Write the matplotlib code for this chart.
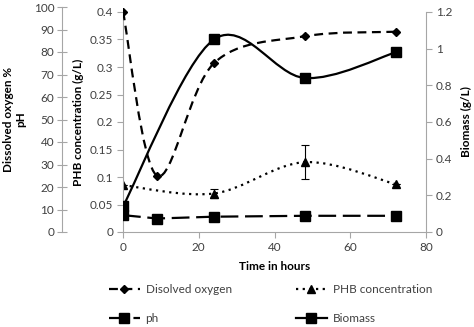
import numpy as np
import matplotlib
matplotlib.use("Agg")
import matplotlib.pyplot as plt
from matplotlib.path import Path
from matplotlib.patches import PathPatch
from matplotlib.lines import Line2D

plt.rcParams['font.family'] = ['Lato', 'DejaVu Sans']
plt.rcParams['font.size'] = 8.5

# data
time_do = [0, 9, 24, 48, 72]
dissolved_oxygen = [98, 25, 75, 87, 89]      # % (outer left axis)
time_ph = [0, 9, 24, 48, 72]
ph = [7.5, 6.0, 6.8, 7.2, 7.2]               # outer left axis
time_phb = [0, 24, 48, 72]
phb = [0.085, 0.070, 0.127, 0.087]           # g/L
phb_err = [0.0, 0.009, 0.031, 0.0]
time_bio = [0, 24, 48, 72]
biomass = [0.14, 1.05, 0.84, 0.98]           # g/L (right axis)

grey = '#a6a6a6'
tick_col = '#404040'
fs = 8.5


def smooth_path(x, y):
    # excel-like smoothed line: catmull-rom converted to cubic bezier
    p = np.column_stack([x, y]).astype(float)
    n = len(p)
    verts = [p[0]]
    codes = [Path.MOVETO]
    for i in range(n - 1):
        p0 = p[i - 1] if i > 0 else p[i]
        p3 = p[i + 2] if i + 2 < n else p[i + 1]
        c1 = p[i] + (p[i + 1] - p0) / 6.0
        c2 = p[i + 1] - (p3 - p[i]) / 6.0
        verts += [c1, c2, p[i + 1]]
        codes += [Path.CURVE4] * 3
    return Path(verts, codes)


fig = plt.figure(figsize=(4.74, 3.27), dpi=100)
W, H = 474.0, 327.0
x0, x1 = 123 / W, 426 / W
yb = 1 - 232 / H
ax = fig.add_axes([x0, yb, x1 - x0, (232 - 12) / H])          # PHB axis
ax_out = fig.add_axes([x0, yb, x1 - x0, (232 - 7) / H])       # DO / pH axis
ax_out.patch.set_visible(False)
ax_bio = fig.add_axes([x0, yb, x1 - x0, (232 - 12) / H])      # biomass axis
ax_bio.patch.set_visible(False)

for a in (ax, ax_out, ax_bio):
    a.set_xlim(0, 80)
    for s in a.spines.values():
        s.set_visible(False)

# PHB / main axis
ax.set_ylim(0, 0.4)
ax.set_yticks(np.arange(0, 0.41, 0.05))
ax.set_yticklabels(['0', '0.05', '0.1', '0.15', '0.2', '0.25', '0.3', '0.35', '0.4'])
ax.set_xticks([0, 20, 40, 60, 80])
ax.spines['left'].set_visible(True)
ax.spines['bottom'].set_visible(True)
ax.spines['left'].set_color(grey)
ax.spines['bottom'].set_color(grey)
ax.tick_params(axis='both', colors=grey, labelcolor=tick_col, length=4, width=0.8,
               pad=3, labelsize=fs)
ax.set_xlabel('Time in hours', fontweight='bold', fontsize=fs, labelpad=6)
ax.set_ylabel('PHB concentration (g/L)', fontweight='bold', fontsize=fs, labelpad=4)

# outer axis
ax_out.set_ylim(0, 100)
ax_out.set_yticks(range(0, 101, 10))
ax_out.set_xticks([])
ax_out.spines['left'].set_visible(True)
ax_out.spines['left'].set_position(('outward', 44))
ax_out.spines['left'].set_color(grey)
ax_out.tick_params(axis='y', direction='inout', colors=grey, labelcolor=tick_col,
                   length=7, width=0.8, pad=2, labelsize=fs)
ax_out.set_ylabel('Dissolved oxygen %\npH', fontweight='bold', fontsize=fs, labelpad=5)

# biomass axis
ax_bio.set_ylim(0, 1.2)
ax_bio.set_yticks([0, 0.2, 0.4, 0.6, 0.8, 1, 1.2])
ax_bio.set_yticklabels(['0', '0.2', '0.4', '0.6', '0.8', '1', '1.2'])
ax_bio.set_xticks([])
ax_bio.yaxis.tick_right()
ax_bio.yaxis.set_label_position('right')
ax_bio.spines['right'].set_visible(True)
ax_bio.spines['right'].set_color(grey)
ax_bio.tick_params(axis='y', colors=grey, labelcolor=tick_col, length=4, width=0.8,
                   pad=3, labelsize=fs)
ax_bio.set_ylabel('Biomass (g/L)', fontweight='bold', fontsize=fs, labelpad=6)

lw = 1.6
# dissolved oxygen
ax_out.add_patch(PathPatch(smooth_path(time_do, dissolved_oxygen), fill=False,
                           lw=lw, color='black', linestyle=(0, (4, 2.5))))
ax_out.plot(time_do, dissolved_oxygen, linestyle='none', marker='D', ms=4.5, color='black')
# pH
ax_out.plot(time_ph, ph, color='black', lw=lw, linestyle=(0, (8, 3)),
            marker='s', ms=6.5)
# PHB
ax.add_patch(PathPatch(smooth_path(time_phb, phb), fill=False, lw=lw,
                       color='black', linestyle=(0, (1, 2))))
ax.errorbar(time_phb, phb, yerr=phb_err, fmt='^', ms=6, color='black',
            ecolor='black', elinewidth=0.8, capsize=3, capthick=0.8)
# biomass
ax_bio.add_patch(PathPatch(smooth_path(time_bio, biomass), fill=False, lw=lw,
                           color='black', linestyle='-'))
ax_bio.plot(time_bio, biomass, linestyle='none', marker='s', ms=6.5, color='black')

h_do = Line2D([], [], color='black', lw=lw, linestyle=(0, (4, 2.5)), marker='D', ms=4.5)
h_phb = Line2D([], [], color='black', lw=lw, linestyle=(0, (1, 2)), marker='^', ms=6)
h_ph = Line2D([], [], color='black', lw=lw, linestyle=(0, (8, 3)), marker='s', ms=6.5)
h_bio = Line2D([], [], color='black', lw=lw, linestyle='-', marker='s', ms=6.5)

leg_kw = dict(frameon=False, handlelength=2.6, handletextpad=0.5, labelspacing=1.55,
              fontsize=fs, borderaxespad=0, borderpad=0, loc='upper left', numpoints=1)
leg1 = fig.legend([h_do, h_ph], ['Disolved oxygen', 'ph'],
                  bbox_to_anchor=(109 / W, 1 - 284 / H), **leg_kw)
leg2 = fig.legend([h_phb, h_bio], ['PHB concentration', 'Biomass'],
                  bbox_to_anchor=(296 / W, 1 - 284 / H), **leg_kw)
for leg in (leg1, leg2):
    for t in leg.get_texts():
        t.set_color(tick_col)

fig.savefig('out.png', dpi=100)
